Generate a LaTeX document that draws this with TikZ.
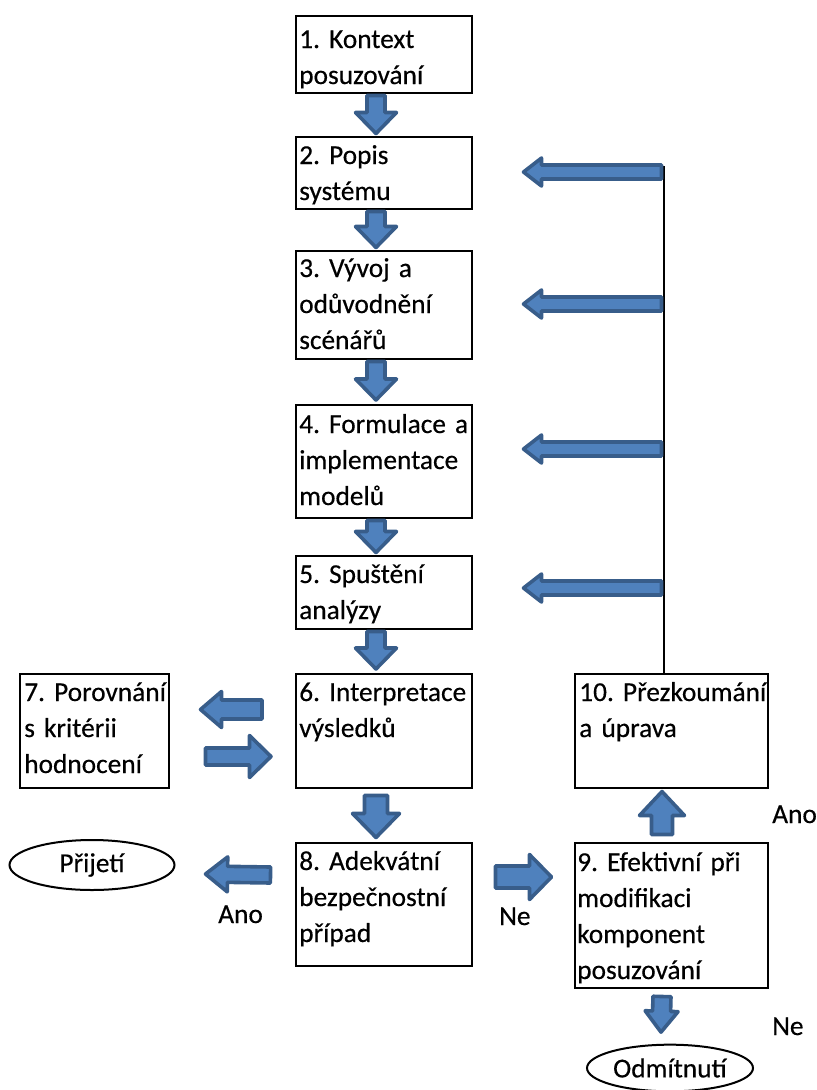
\documentclass[tikz,border=0pt]{standalone}
\usepackage{fontspec}
\setmainfont{Carlito}[FakeBold=0.4]
\usetikzlibrary{calc,shapes.geometric}

\definecolor{arrowfill}{HTML}{4F81BD}
\definecolor{arrowline}{HTML}{385D8A}

\newcommand\labelfont{\fontsize{20.5}{27}\selectfont\frenchspacing}

\tikzset{
  stagebox/.style={draw=black, line width=1.5pt, inner sep=0pt, anchor=north west},
  stagetext/.style={anchor=base west, inner sep=0pt, text width=170pt, align=left,
                    font=\labelfont},
  outcome/.style={draw=black, line width=1.5pt, ellipse, inner sep=0pt, font=\labelfont},
  answer/.style={anchor=base west, inner sep=0pt, font=\labelfont},
  barrow/.style={fill=arrowfill, draw=arrowline, line width=2.7pt, line join=round},
}

% rectangle from its top-left to its bottom-right corner (units: px)
\newcommand\stagerect[5]{%
  \node[stagebox, minimum width={(#4-#2)*0.75pt}, minimum height={(#5-#3)*0.75pt}]
    (#1) at (#2,#3) {};}

% block arrow: tail, tip, shaft half-width, head half-width, head length (px)
\newcommand\blockarrow[5]{%
  \path (#1) coordinate (ba-a) (#2) coordinate (ba-b);
  \coordinate (ba-c) at ($(ba-b)!#5*0.75pt!(ba-a)$);
  \filldraw[barrow]
    ($(ba-a)!#3*0.75pt!90:(ba-b)$) -- ($(ba-c)!#3*0.75pt!90:(ba-b)$)
    -- ($(ba-c)!#4*0.75pt!90:(ba-b)$) -- (ba-b)
    -- ($(ba-c)!#4*0.75pt!-90:(ba-b)$) -- ($(ba-c)!#3*0.75pt!-90:(ba-b)$)
    -- ($(ba-a)!#3*0.75pt!-90:(ba-b)$) -- cycle;}

\begin{document}
\begin{tikzpicture}[x=0.75pt, y=-0.75pt]
  \useasboundingbox (0,0) rectangle (817,1090);

  % stage boxes
  \stagerect{b1}{295}{15}{471}{92}
  \stagerect{b2}{295}{136}{471}{208}
  \stagerect{b3}{295}{250}{471}{358}
  \stagerect{b4}{295}{404}{471}{517}
  \stagerect{b5}{295}{555}{471}{628}
  \stagerect{b6}{295}{673}{471}{787}
  \stagerect{b7}{19}{673}{168}{787}
  \stagerect{b8}{295}{842}{471}{965}
  \stagerect{b9}{574}{842}{767}{987}
  \stagerect{b10}{574}{673}{767}{787}

  % stage texts
  \node[stagetext] (t1) at (299,48) {1. Kontext\\posuzování};
  \node[stagetext] (t2) at (299,164) {2. Popis\\systému};
  \node[stagetext] (t3) at (299,277) {3. Vývoj a\\odůvodnění\\scénářů};
  \node[stagetext] (t4) at (299,433) {4. Formulace a\\implementace\\modelů};
  \node[stagetext] (t5) at (299,583) {5. Spuštění\\analýzy};
  \node[stagetext] (t6) at (299,701) {6. Interpretace\\výsledků};
  \node[stagetext] (t7) at (24,701) {7. Porovnání\\s kritérii\\hodnocení};
  \node[stagetext] (t8) at (299,870) {8. Adekvátní\\bezpečnostní\\případ};
  \node[stagetext] (t9) at (577,871) {9. Efektivní při\\modifikaci\\komponent\\posuzování};
  \node[stagetext] (t10) at (579,701) {10. Přezkoumání\\a úprava};

  % outcomes
  \node[outcome, minimum width=123.75pt, minimum height=37.5pt] (acc) at (92,865) {Přijetí};
  \node[outcome, minimum width=124.5pt, minimum height=35pt] (rej) at (670,1068) {Odmítnutí};

  % answer labels
  \node[answer] (yes1) at (218,923) {Ano};
  \node[answer] (no1) at (499,925) {Ne};
  \node[answer] (yes2) at (772,823) {Ano};
  \node[answer] (no2) at (772,1035) {Ne};

  % main column arrows
  \coordinate (acol) at (376,0);
  \blockarrow{$(acol|-b1.south)+(0,1.5)$}{$(acol|-b2.north)+(0,-2.5)$}{9}{20.5}{21}
  \blockarrow{$(acol|-b2.south)+(0,1.5)$}{$(acol|-b3.north)+(0,-2.5)$}{9}{20.5}{21}
  \blockarrow{$(acol|-b3.south)+(0,1.5)$}{$(acol|-b4.north)+(0,-4)$}{9}{20.5}{21}
  \blockarrow{$(acol|-b4.south)+(0,1.5)$}{$(acol|-b5.north)+(0,-2.5)$}{9}{20.5}{21}
  \blockarrow{$(acol|-b5.south)+(0,1.5)$}{$(acol|-b6.north)+(0,-4)$}{9}{20.5}{21}
  \blockarrow{$(acol|-b6.south)+(0,6.5)$}{$(acol|-b8.north)+(0,-4.5)$}{11.5}{23.5}{24}

  % exchange with the criteria
  \blockarrow{$(b6.west)+(-33,-21.5)$}{$(b7.east)+(30.5,-21.5)$}{9.5}{18}{21}
  \blockarrow{$(b7.east)+(35.5,25.5)$}{$(b6.west)+(-24,25.5)$}{8.5}{21}{21.5}

  % decisions
  \blockarrow{$(b8.west)+(-24.5,-29.5)$}{$(acc.east)+(30,9)$}{8}{17.5}{22}
  \blockarrow{$(b8.east)+(22.5,-27.5)$}{$(b9.west)+(-22.5,-38.5)$}{11}{22.5}{22}
  \blockarrow{$(b9.north)+(-9.5,-7.5)$}{$(b10.south)+(-9.5,2.5)$}{10.5}{22.5}{24}
  \blockarrow{$(b9.south)+(-9.5,7.5)$}{$(rej.north)+(-9,-11.5)$}{9}{16.5}{21}

  % feedback line from the review back to stages 2--5
  \coordinate (vtop) at (664,166);
  \draw[line width=1.5pt] (vtop) -- (vtop |- b10.north);
  \blockarrow{$(vtop|-0,172)+(-2.5,0)$}{$(b2.east|-0,172)+(50.5,0)$}{7}{14}{18}
  \blockarrow{$(vtop|-0,304)+(-2.5,0)$}{$(b3.east|-0,304)+(50.5,0)$}{7}{14}{18}
  \blockarrow{$(vtop|-0,449)+(-2.5,0)$}{$(b4.east|-0,449)+(50.5,0)$}{7}{14}{18}
  \blockarrow{$(vtop|-0,588)+(-2.5,0)$}{$(b5.east|-0,588)+(50.5,0)$}{7}{14}{18}
\end{tikzpicture}
\end{document}
